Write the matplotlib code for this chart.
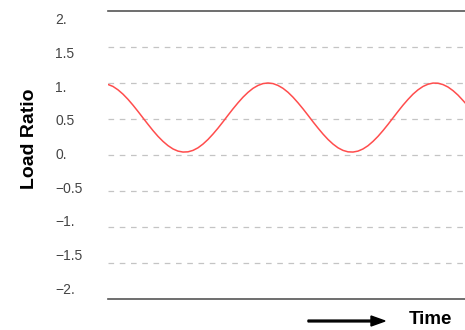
import matplotlib
matplotlib.use("Agg")
import matplotlib.pyplot as plt
from matplotlib.patches import FancyArrow

# Data
time = [0, 0.5, 1, 1.5, 2, 2.5, 3, 3.5, 4, 4.5, 5, 5.5, 6, 6.5, 7, 7.5, 8, 8.5,
        9, 9.5, 10, 10.5, 11, 11.5, 12, 12.5, 13, 13.5, 14, 14.5, 15, 15.5, 16,
        16.5, 17, 17.5, 18, 18.5, 19, 19.5, 20, 20.5, 21, 21.5, 22, 22.5, 23,
        23.5, 24, 24.5, 25, 25.5, 26, 26.5, 27, 27.5, 28, 28.5, 29, 29.5, 30,
        30.5, 31, 31.5, 32, 32.5, 33, 33.5, 34, 34.5, 35, 35.5, 35.7]
load = [0.98, 0.952, 0.905, 0.845, 0.773, 0.692, 0.605, 0.515, 0.426, 0.339,
        0.259, 0.189, 0.130, 0.084, 0.054, 0.041, 0.044, 0.064, 0.10, 0.152,
        0.216, 0.291, 0.373, 0.461, 0.552, 0.641, 0.725, 0.803, 0.870, 0.926,
        0.966, 0.992, 1.0, 0.992, 0.966, 0.926, 0.871, 0.803, 0.725, 0.641,
        0.552, 0.461, 0.374, 0.291, 0.216, 0.152, 0.10, 0.064, 0.044, 0.041,
        0.054, 0.084, 0.129, 0.189, 0.259, 0.339, 0.425, 0.515, 0.605, 0.692,
        0.772, 0.845, 0.905, 0.952, 0.983, 0.999, 0.997, 0.978, 0.944, 0.894,
        0.832, 0.757, 0.726]
grid_levels = [1.5, 1, 0.5, 0, -0.5, -1, -1.5]
ytick_labels = ["2.", "1.5", "1.", "0.5", "0.", "\u22120.5", "\u22121.", "\u22121.5", "\u22122."]

plt.rcParams['font.family'] = ['Liberation Sans', 'DejaVu Sans']

W, H = 465, 330
fig = plt.figure(figsize=(W / 100, H / 100), dpi=100)
ax = fig.add_axes([108 / W, 1 - 299 / H, 1 - 108 / W, 288 / H])

for y in grid_levels:
    ax.axhline(y, color='#c4c4c4', lw=0.9, ls=(0, (4.5, 4.5)), zorder=1)

ax.plot(time, load, color='#ff4d4d', lw=1.1, zorder=3)
ax.set_xlim(0, 35.7)
ax.set_ylim(-2, 2)

for s in ['left', 'right']:
    ax.spines[s].set_visible(False)
for s in ['top', 'bottom']:
    ax.spines[s].set_color('#555555')
    ax.spines[s].set_linewidth(1.2)
ax.set_xticks([])
ax.set_yticks([])

# Tick labels (Mathematica-style, slightly compressed spacing)
for i, lab in enumerate(ytick_labels):
    ypix = 20 + i * 33.75
    fig.text(55 / W, 1 - ypix / H, lab, ha='left', va='center',
             fontsize=10, color='#444444')

fig.text(29 / W, 1 - 139 / H, 'Load Ratio', rotation=90, ha='center', va='center',
         fontsize=14, fontweight='bold', color='black')
fig.text(430 / W, 1 - 320 / H, 'Time', ha='center', va='center',
         fontsize=13.5, fontweight='bold', color='black')
fig.patches.append(FancyArrow(308 / W, 1 - 321 / H, 63 / W, 0,
                              width=1.8 / H, head_width=10 / H, head_length=14 / W,
                              length_includes_head=False, color='black',
                              transform=fig.transFigure, figure=fig))

fig.savefig('out.png', dpi=100)
